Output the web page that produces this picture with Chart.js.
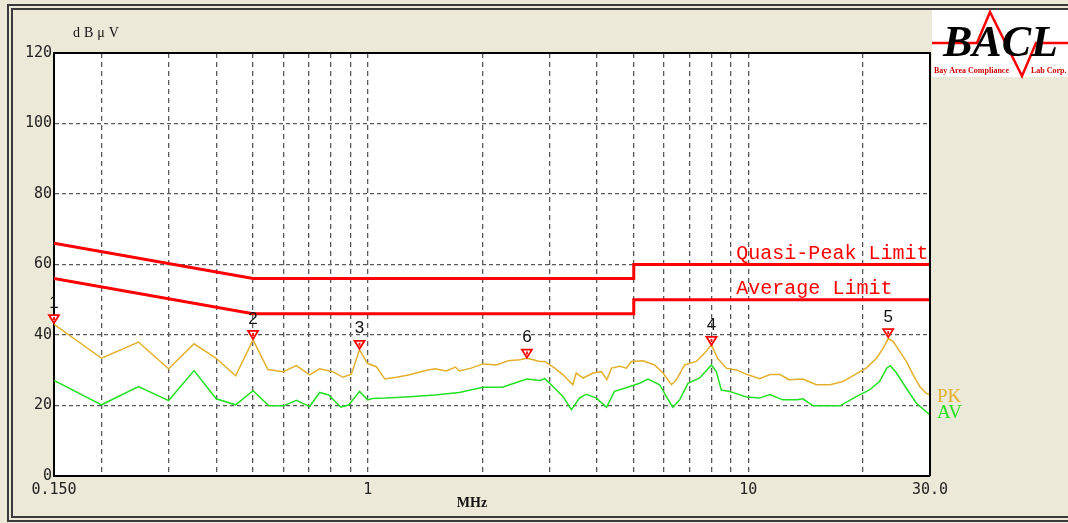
<!DOCTYPE html>
<html>
<head>
<meta charset="utf-8">
<script src="https://cdn.jsdelivr.net/npm/chart.js@4.4.0/dist/chart.umd.min.js"></script>
<style>
  html, body { margin: 0; padding: 0; background: #ece9d8; }
  #wrap { width: 1068px; height: 523px; }
</style>
</head>
<body>
<div id="wrap"><canvas id="emi" width="1068" height="523"></canvas></div>
<script>
// frequency in MHz, level in dBuV
const pkFreq  = [0.15,0.2,0.25,0.3,0.35,0.4,0.45,0.5,0.547,0.6,0.65,0.704,0.748,0.81,0.861,0.906,0.952,1.0,1.054,1.11,1.19,1.29,1.4,1.5,1.61,1.7,1.74,1.87,2.01,2.18,2.34,2.51,2.62,2.72,2.83,2.92,3.1,3.26,3.46,3.53,3.68,3.91,4.11,4.25,4.37,4.59,4.78,4.93,5.29,5.67,5.97,6.28,6.47,6.8,7.3,7.68,8.0,8.3,8.75,9.3,9.98,10.7,11.4,12.1,12.8,13.9,15.1,16.4,17.7,19.2,20.4,21.7,22.6,23.3,24.0,25.0,26.0,27.1,28.2,29.3,30];
const pkLevel = [43.0,33.4,38.0,30.4,37.5,33.4,28.4,38.6,30.2,29.6,31.3,28.7,30.4,29.6,28.0,28.9,35.8,31.9,31.0,27.5,28.0,28.7,29.8,30.4,29.8,30.9,29.8,30.6,31.8,31.5,32.7,33.0,33.4,33.0,32.5,32.5,30.6,28.7,25.9,29.2,27.8,29.2,29.6,27.3,30.6,31.1,30.6,32.5,32.7,31.5,29.2,25.9,27.3,31.5,32.5,34.9,37.2,33.4,30.6,30.1,28.7,27.6,28.8,28.8,27.3,27.5,25.9,25.9,26.8,29.0,30.6,33.4,36.3,39.0,38.2,35.3,32.5,28.7,25.4,23.5,23.0];

const avFreq  = [0.15,0.2,0.25,0.3,0.35,0.4,0.45,0.5,0.55,0.6,0.65,0.704,0.748,0.79,0.85,0.893,0.952,1.0,1.03,1.11,1.19,1.29,1.5,1.74,2.01,2.26,2.36,2.62,2.83,2.92,3.1,3.26,3.43,3.6,3.75,3.99,4.24,4.45,4.73,5.18,5.45,5.85,6.09,6.33,6.6,6.94,7.45,8.0,8.24,8.49,8.93,9.88,10.7,11.4,12.3,13.4,13.9,14.8,17.4,19.2,20.8,22.1,23.1,23.6,24.5,26.0,27.6,30];
const avLevel = [27.1,20.2,25.4,21.4,29.9,21.9,20.2,24.2,19.9,19.9,21.5,19.7,23.7,23.0,19.5,20.2,24.0,21.6,22.0,22.1,22.3,22.5,23.0,23.7,25.2,25.2,25.9,27.5,27.1,27.6,24.9,22.5,18.8,22.1,23.2,22.1,19.5,24.0,24.9,26.3,27.5,25.9,22.5,19.5,21.6,26.3,27.8,31.5,29.6,24.4,24.0,22.4,22.1,23.1,21.6,21.6,21.9,19.9,19.9,22.5,24.4,26.8,30.6,31.3,29.2,24.9,20.7,17.3];

const qpLimitFreq  = [0.15, 0.5, 5, 5, 30];
const qpLimitLevel = [66, 56, 56, 60, 60];
const avLimitFreq  = [0.15, 0.5, 5, 5, 30];
const avLimitLevel = [56, 46, 46, 50, 50];

const markerNo    = ["1", "2", "3", "6", "4", "5"];
const markerFreq  = [0.15, 0.5, 0.952, 2.62, 8.0, 23.3];
const markerLevel = [43.1, 38.6, 35.8, 33.3, 36.9, 39.1];

const xGridTicks = [0.15,0.2,0.3,0.4,0.5,0.6,0.7,0.8,0.9,1,2,3,4,5,6,7,8,9,10,20,30];
const xTickText  = { 0.15: "0.150", 1: "1", 10: "10", 30: "30.0" };

const PK_COLOR = "#e2b02c";
const AV_COLOR = "#22e022";
const LIMIT_COLOR = "#ff0000";
const GRID_COLOR = "#5a5a5a";

const pts = (fs, ls) => fs.map((f, i) => ({ x: f, y: ls[i] }));

const decor = {
  id: "decor",
  beforeDraw(chart) {
    const { ctx, chartArea: a } = chart;
    ctx.save();
    ctx.fillStyle = "#ece9d8";
    ctx.fillRect(0, 0, chart.width, chart.height);
    // double frame round the window
    ctx.strokeStyle = "#3a3a3a";
    ctx.lineWidth = 2;
    ctx.strokeRect(8, 5, 1100, 516);
    ctx.strokeRect(12, 9, 1100, 508);
    ctx.fillStyle = "#ffffff";
    ctx.fillRect(a.left, a.top, a.right - a.left, a.bottom - a.top);
    ctx.restore();
  },
  afterDatasetsDraw(chart) {
    const { ctx, chartArea: a } = chart;
    const xs = chart.scales.x, ys = chart.scales.y;
    ctx.save();
    // top / right edges of the plot box
    ctx.strokeStyle = "#000";
    ctx.lineWidth = 2;
    ctx.beginPath();
    ctx.moveTo(a.left, a.top);
    ctx.lineTo(a.right, a.top);
    ctx.lineTo(a.right, a.bottom);
    ctx.stroke();

    // limit names
    ctx.fillStyle = LIMIT_COLOR;
    ctx.font = "20px 'Liberation Mono'";
    ctx.textBaseline = "alphabetic";
    ctx.textAlign = "left";
    const lx = xs.getPixelForValue(9.3);
    ctx.fillText("Quasi-Peak Limit", lx, ys.getPixelForValue(60) - 6);
    ctx.fillText("Average Limit", lx, ys.getPixelForValue(50) - 6);

    // markers: hollow red triangles pointing at the peak
    markerNo.forEach((no, i) => {
      const x = xs.getPixelForValue(markerFreq[i]);
      const y = ys.getPixelForValue(markerLevel[i]);
      ctx.fillStyle = "#ffffff";
      ctx.strokeStyle = "#ff0000";
      ctx.lineWidth = 1.8;
      ctx.beginPath();
      ctx.moveTo(x - 5, y - 9);
      ctx.lineTo(x + 5, y - 9);
      ctx.lineTo(x, y - 1);
      ctx.closePath();
      ctx.fill();
      ctx.stroke();
      ctx.beginPath();
      ctx.moveTo(x, y - 7);
      ctx.lineTo(x, y - 4);
      ctx.stroke();
      ctx.fillStyle = "#111";
      ctx.font = "17px 'Liberation Sans'";
      ctx.textAlign = "center";
      ctx.textBaseline = "middle";
      ctx.fillText(no, x, y - 21);
    });

    // trace names
    ctx.textAlign = "left";
    ctx.textBaseline = "middle";
    ctx.font = "19px 'Liberation Serif'";
    ctx.fillStyle = PK_COLOR;
    ctx.fillText("PK", a.right + 7, ys.getPixelForValue(22.4));
    ctx.fillStyle = AV_COLOR;
    ctx.fillText("AV", a.right + 7, ys.getPixelForValue(17.8));
    ctx.restore();
  },
  afterDraw(chart) {
    const { ctx } = chart;
    ctx.save();
    // axis titles
    ctx.fillStyle = "#111";
    ctx.font = "14px 'Liberation Serif'";
    ctx.textBaseline = "middle";
    ctx.textAlign = "left";
    ctx.letterSpacing = "4px";
    ctx.fillText("dBμV", 73, 33);
    ctx.letterSpacing = "0px";
    ctx.font = "bold 14px 'Liberation Serif'";
    ctx.textAlign = "center";
    ctx.fillText("MHz", 472, 503);

    // logo
    ctx.fillStyle = "#fff";
    ctx.fillRect(932, 10, 136, 67);
    ctx.strokeStyle = "#ff0000";
    ctx.lineWidth = 2.5;
    ctx.beginPath();
    ctx.moveTo(932, 43);
    ctx.lineTo(977, 43);
    ctx.lineTo(990, 12);
    ctx.lineTo(1022, 76);
    ctx.lineTo(1036, 43);
    ctx.lineTo(1068, 43);
    ctx.stroke();
    ctx.fillStyle = "#000";
    ctx.font = "italic bold 44px 'Liberation Serif'";
    ctx.textAlign = "left";
    ctx.textBaseline = "alphabetic";
    ctx.fillText("BACL", 943, 56);
    ctx.fillStyle = "#d00000";
    ctx.font = "bold 8px 'Liberation Serif'";
    ctx.fillText("Bay Area Compliance", 934, 73);
    ctx.fillText("Lab Corp.", 1031, 73);
    ctx.restore();
  }
};

new Chart(document.getElementById("emi"), {
  type: "line",
  data: {
    datasets: [
      { data: pts(qpLimitFreq, qpLimitLevel), borderColor: LIMIT_COLOR, borderWidth: 3 },
      { data: pts(avLimitFreq, avLimitLevel), borderColor: LIMIT_COLOR, borderWidth: 3 },
      { data: pts(pkFreq, pkLevel), borderColor: PK_COLOR, borderWidth: 1.5 },
      { data: pts(avFreq, avLevel), borderColor: AV_COLOR, borderWidth: 1.5 }
    ]
  },
  options: {
    responsive: false,
    animation: false,
    devicePixelRatio: 1,
    elements: { point: { radius: 0 }, line: { tension: 0 } },
    layout: { padding: { left: 10, right: 138, top: 53, bottom: 17 } },
    plugins: { legend: { display: false }, tooltip: { enabled: false } },
    scales: {
      x: {
        type: "logarithmic",
        min: 0.15,
        max: 30,
        afterBuildTicks: (s) => { s.ticks = xGridTicks.map(v => ({ value: v })); },
        afterFit: (s) => { s.height = 30; },
        ticks: {
          autoSkip: false,
          maxRotation: 0,
          padding: 5,
          color: "#222",
          font: { family: "'DejaVu Sans Mono'", size: 15 },
          callback: (v) => xTickText[v] || ""
        },
        grid: {
          drawTicks: false,
          lineWidth: 1.3,
          color: (c) => (c.tick && (c.tick.value === 0.15 || c.tick.value === 30)) ? "rgba(0,0,0,0)" : GRID_COLOR
        },
        border: { display: true, color: "#000", width: 2, dash: [5, 4] }
      },
      y: {
        min: 0,
        max: 120,
        afterFit: (s) => { s.width = 44; },
        ticks: {
          stepSize: 20,
          padding: 2,
          color: "#222",
          font: { family: "'DejaVu Sans Mono'", size: 15 }
        },
        grid: {
          drawTicks: false,
          lineWidth: 1.3,
          color: (c) => (c.tick && (c.tick.value === 0 || c.tick.value === 120)) ? "rgba(0,0,0,0)" : GRID_COLOR
        },
        border: { display: true, color: "#000", width: 2, dash: [4, 3] }
      }
    }
  },
  plugins: [decor]
});
</script>
</body>
</html>
